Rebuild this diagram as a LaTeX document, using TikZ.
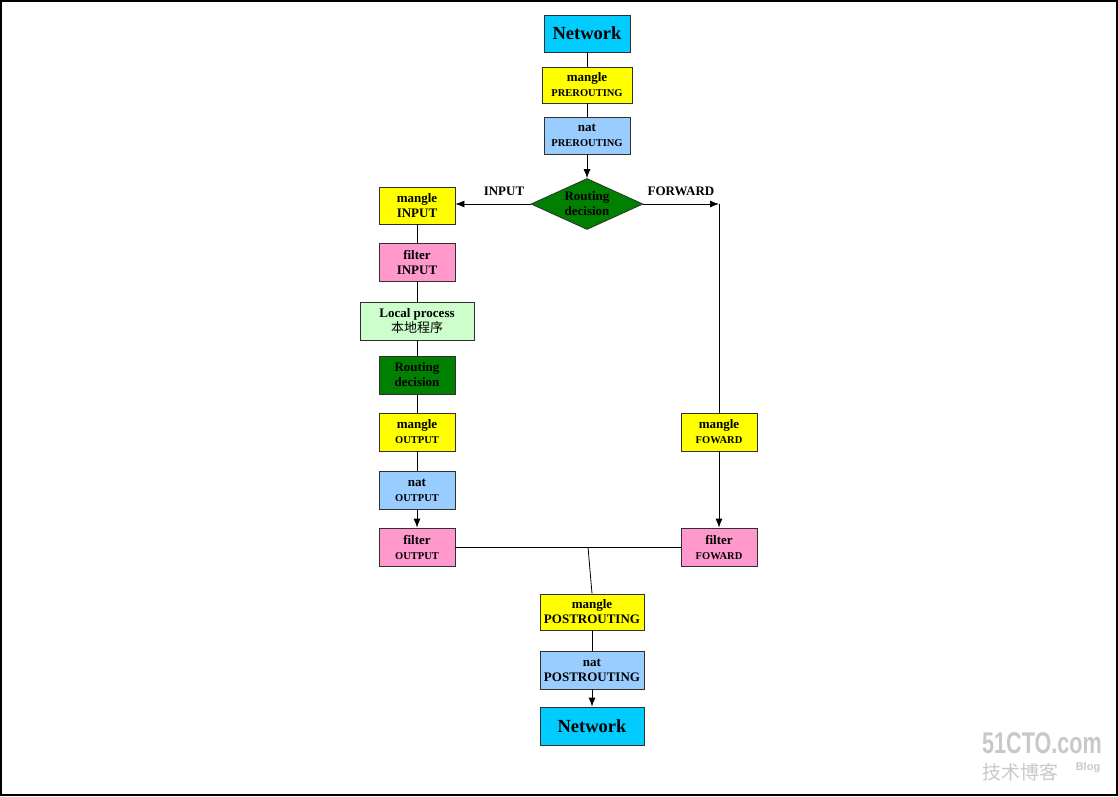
\documentclass[tikz,border=0pt]{standalone}
\usepackage{fontspec}
\setmainfont{Liberation Serif}
\newfontfamily\cjk{Noto Sans CJK SC}
\newfontfamily\wmfont{Liberation Sans}
\usetikzlibrary{shapes.geometric,arrows.meta}
\definecolor{netcyan}{HTML}{00CCFF}
\definecolor{myyellow}{HTML}{FFFF00}
\definecolor{myblue}{HTML}{99CCFF}
\definecolor{mypink}{HTML}{FF99CC}
\definecolor{mylgreen}{HTML}{CCFFCC}
\definecolor{mydgreen}{HTML}{008000}
\definecolor{boxline}{HTML}{303030}
\definecolor{wm}{HTML}{C8C8C8}
\newcommand{\bigtxt}{\fontsize{13}{15}\selectfont\bfseries}
\newcommand{\smltxt}{\fontsize{10.5}{15}\selectfont\bfseries}
\tikzset{
  box/.style={draw=boxline, line width=0.8pt, rectangle, inner sep=0pt, align=center, minimum width=76pt, minimum height=37pt, font=\bigtxt},
  net/.style={box, fill=netcyan, font=\fontsize{18.5}{20}\selectfont\bfseries},
  conn/.style={line width=0.8pt, black},
  arr/.style={conn, -{Latex[length=9pt,width=7pt]}},
  lbl/.style={font=\bigtxt, inner sep=0pt}
}
\begin{document}
\begin{tikzpicture}[x=1pt,y=-1pt]
\useasboundingbox (0,0) rectangle (1118,796);
\draw[line width=1.2pt] (1,1) rectangle (1117,795);
% top chain
\node[net, minimum width=86pt] (n1) at (587,33.5) {Network};
\node[box, fill=myyellow, minimum width=90pt, minimum height=36pt] (mpre) at (587,85) {mangle\\{\smltxt PREROUTING}};
\node[box, fill=myblue, minimum width=86pt] (npre) at (587,135.5) {nat\\{\smltxt PREROUTING}};
\node[draw=boxline, line width=0.8pt, shape=diamond, fill=mydgreen, aspect=2.2, inner sep=0pt, minimum width=112pt, minimum height=51pt, align=center, font=\bigtxt] (rd1) at (587,204) {Routing\\decision};
% left chain
\node[box, fill=myyellow] (mi) at (417,205.5) {mangle\\INPUT};
\node[box, fill=mypink, minimum height=38pt] (fi) at (417,262) {filter\\INPUT};
\node[box, fill=mylgreen, minimum width=114pt, minimum height=38pt] (lp) at (417,321) {Local process\\{\cjk\mdseries\fontsize{13}{15}\selectfont 本地程序}};
\node[box, fill=mydgreen, minimum height=38pt] (rd2) at (417,375) {Routing\\decision};
\node[box, fill=myyellow, minimum height=38pt] (mo) at (417,432) {mangle\\{\smltxt OUTPUT}};
\node[box, fill=myblue, minimum height=38pt] (no) at (417,490) {nat\\{\smltxt OUTPUT}};
\node[box, fill=mypink, minimum height=38pt] (fo) at (417,547) {filter\\{\smltxt OUTPUT}};
% right chain
\node[box, fill=myyellow, minimum height=38pt] (mf) at (719,432) {mangle\\{\smltxt FOWARD}};
\node[box, fill=mypink, minimum height=38pt] (ff) at (719,547) {filter\\{\smltxt FOWARD}};
% bottom chain
\node[box, fill=myyellow, minimum width=104pt, minimum height=36pt] (mpo) at (592,612) {mangle\\POSTROUTING};
\node[box, fill=myblue, minimum width=104pt, minimum height=38pt] (npo) at (592,670) {nat\\POSTROUTING};
\node[net, minimum width=104pt, minimum height=38pt] (n2) at (592,726) {Network};
% labels
\node[lbl] (lin) at (504,191) {INPUT};
\node[lbl] (lfw) at (681,191) {FORWARD};
% connectors
\coordinate (corner) at (719,204);
\coordinate (j) at (588,547);
\draw[conn] (n1) -- (mpre);
\draw[conn] (mpre) -- (npre);
\draw[arr] (npre) -- (rd1.north);
\draw[arr] (rd1.west) -- (mi.east |- rd1.west);
\draw[arr] (rd1.east) -- (corner);
\draw[conn] (corner) -- (mf.north);
\draw[conn] (mi) -- (fi);
\draw[conn] (fi) -- (lp);
\draw[conn] (lp) -- (rd2);
\draw[conn] (rd2) -- (mo);
\draw[conn] (mo) -- (no);
\draw[arr] (no) -- (fo);
\draw[arr] (mf) -- (ff);
\draw[conn] (fo.east) -- (ff.west);
\draw[conn] (j) -- (mpo.north);
\draw[conn] (mpo) -- (npo);
\draw[arr] (npo) -- (n2);
% watermark
\node[text=wm, font=\wmfont\bfseries\fontsize{30}{32}\selectfont, inner sep=0pt, xscale=0.72] (wm1) at (1042,743) {51CTO.com};
\node[text=wm, font=\cjk\fontsize{19}{20}\selectfont, inner sep=0pt] (wm2) at (1020,772) {技术博客};
\node[text=wm, font=\wmfont\bfseries\fontsize{11}{12}\selectfont, inner sep=0pt] (wm3) at (1088,768) {Blog};
\end{tikzpicture}
\end{document}
